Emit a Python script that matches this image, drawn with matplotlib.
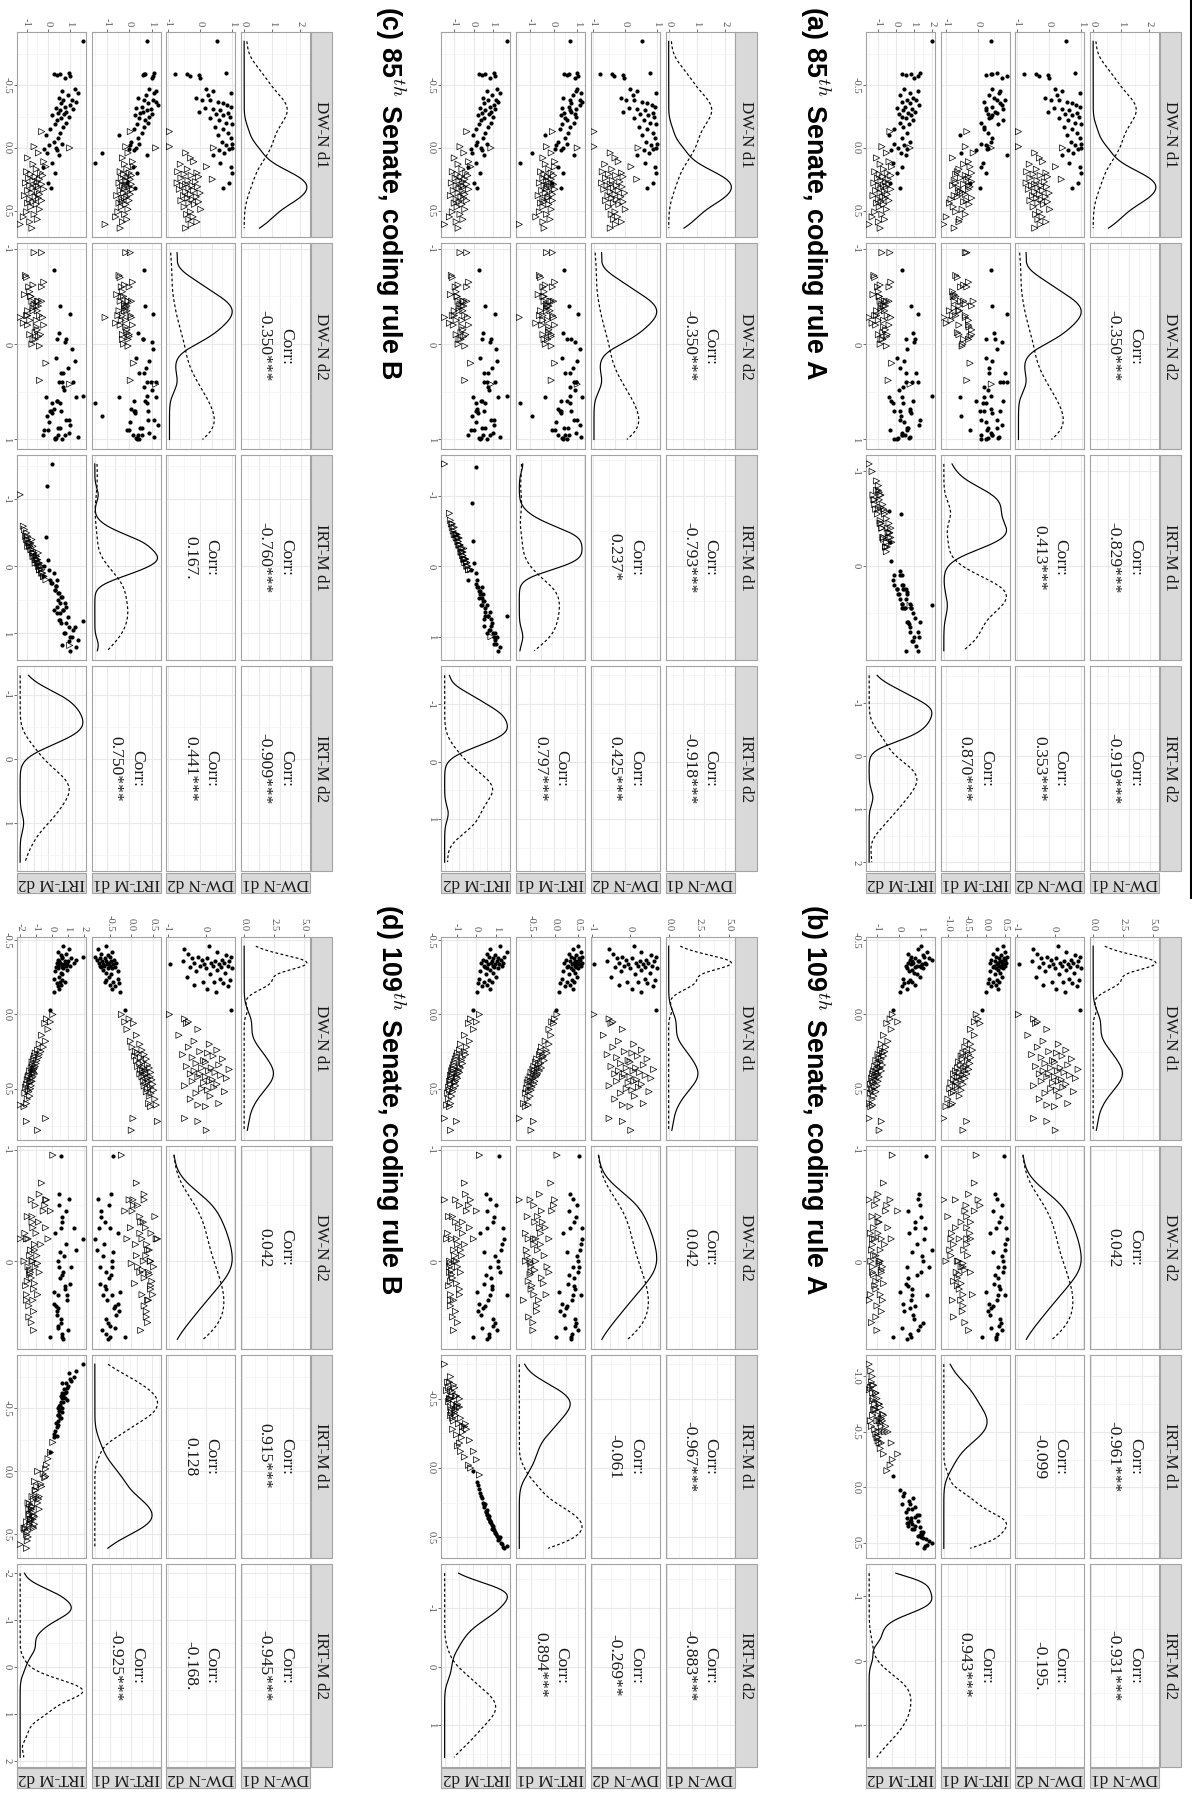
import numpy as np
import matplotlib.pyplot as plt
from matplotlib.patches import Rectangle
from matplotlib.lines import Line2D
from matplotlib.ticker import MaxNLocator

# ------------------------------------------------------------------ data
VAR_NAMES = ['DW-N d1', 'DW-N d2', 'IRT-M d1', 'IRT-M d2']
BLOCK_KEYS = ['L', 'M', 'R']

# 85th Senate, filled circles
dw1_c_85 = [-0.85, -0.60, -0.59, -0.59, -0.57, -0.58, -0.56, -0.47, -0.45, -0.44, -0.42, -0.40, -0.38, -0.38, -0.37, -0.36,
            -0.34, -0.33, -0.32, -0.31, -0.30, -0.29, -0.28, -0.27, -0.26, -0.25, -0.24, -0.22, -0.20, -0.19, -0.17, -0.15,
            -0.12, -0.10, -0.08, -0.05, -0.03, -0.02, 0.00, 0.01, 0.02, 0.04, 0.06, 0.12, 0.15, 0.20, 0.28, 0.32]
dw2_c_85 = [0.54, 0.80, -0.78, -0.40, -0.32, -0.05, -0.02, 0.18, 0.40, 0.97, 0.25, -0.12, 0.05, 0.30, 0.55, 0.70,
            0.85, 0.95, 0.15, 0.40, 0.62, -0.05, 0.88, 0.48, 0.72, 0.93, 0.30, 0.60, 0.80, 0.98, 0.45, 0.70,
            0.88, 0.55, 0.95, 0.68, 1.00, 0.82, 0.98, 0.90, 0.60, 0.75, 0.40, 0.62, 0.95, 0.99, 0.90, 0.70]
irt1_R_c_85 = [0.42, 0.60, 0.40, 0.45, 0.90, 0.25, 0.75, 0.45, 0.70, 0.65, 0.35, 0.50, 0.60, 0.85, 0.20, 0.70,
               0.75, 0.45, 0.25, 0.80, 0.25, 0.55, 0.60, 0.30, 0.45, 0.40, 0.35, 0.80, 0.10, 0.62, 0.20, 0.20,
               0.30, -0.58, 0.45, 0.40, 0.10, 0.25, 0.30, 0.28, -0.05, -0.55, 0.90, 0.15, 0.10, 0.25, -0.25, 0.05]
irt2_R_c_85 = [2.00, 1.35, 0.30, 0.85, 1.20, 0.55, 1.00, 0.45, 1.25, 0.80, 0.20, 0.95, 0.60, 1.10, 0.35, 0.75,
               1.30, 0.50, 0.05, 0.90, 0.40, 1.05, 0.65, 0.15, 0.85, 0.30, 0.55, 0.95, 0.20, 0.70, 0.40, -0.10,
               0.60, -0.40, 0.30, 0.75, -0.15, 0.45, 0.10, 0.60, -0.30, 0.25, 0.55, -0.20, 0.35, 0.05, -0.35, 0.20]
irt1_M_c_85 = [0.70, 1.00, 0.45, 0.65, 1.05, 0.55, 0.90, 1.00, 0.95, 1.15, 0.80, 0.40, 1.10, 0.70, 1.20, 0.75,
               1.10, 0.65, 0.35, 0.95, 0.70, 0.75, 0.45, 0.90, 0.30, 0.95, 0.50, 0.55, 0.85, 0.35, 0.70, 0.25,
               0.60, -0.35, 0.50, 0.20, 0.55, 0.10, 0.40, 0.05, 0.30, -0.90, 0.85, -1.40, 0.20, 0.40, -0.05, 0.30]
irt2_M_c_85 = [1.75, 1.05, 0.30, 0.60, 1.10, 0.45, 0.85, 1.20, 0.70, 1.35, 0.95, 0.50, 1.15, 0.75, 1.25, 0.55,
               1.05, 0.85, 0.35, 1.10, 0.60, 0.90, 0.45, 0.80, 0.25, 1.00, 0.55, 0.40, 0.90, 0.30, 0.75, 0.15,
               0.60, -0.05, 0.50, 0.20, 0.70, 0.10, 0.40, -0.15, 0.45, -0.10, 0.55, 0.15, -0.30, 0.35, 0.00, 0.20]
irt1_L_c_85 = [0.81, 1.11, 0.65, 0.70, 1.05, 0.60, 1.00, 0.90, 1.18, 1.10, 0.75, 0.40, 1.05, 0.65, 1.20, 0.85,
               1.26, 0.55, 0.30, 0.95, 0.80, 0.60, 0.50, 1.00, 0.25, 0.90, 0.45, 0.70, 0.85, 0.35, 0.65, 0.20,
               0.55, -0.44, 0.40, 0.10, 0.45, 0.05, 0.30, 0.00, 0.20, -1.20, 0.80, -1.53, 0.15, 0.35, -0.10, 0.25]
irt2_L_c_85 = [1.61, 0.95, 0.25, 0.55, 1.00, 0.40, 0.80, 1.25, 0.65, 1.40, 0.90, 0.50, 1.10, 0.70, 1.30, 0.60,
               1.00, 0.80, 0.35, 1.15, 0.55, 0.85, 0.45, 0.75, 0.20, 0.95, 0.60, 0.40, 0.85, 0.30, 0.70, 0.10,
               0.55, -0.10, 0.45, 0.25, 0.65, 0.05, 0.35, -0.20, 0.40, -0.05, 0.50, 0.20, -0.25, 0.30, 0.00, 0.15]

# 85th Senate, open triangles
dw1_t_85 = [-0.13, -0.01, 0.00, 0.04, 0.08, 0.11, 0.13, 0.15, 0.17, 0.19, 0.20, 0.21, 0.22, 0.23, 0.24, 0.25,
            0.26, 0.27, 0.28, 0.29, 0.30, 0.30, 0.31, 0.32, 0.33, 0.34, 0.35, 0.36, 0.37, 0.38, 0.39, 0.40,
            0.41, 0.42, 0.43, 0.44, 0.45, 0.47, 0.49, 0.51, 0.53, 0.55, 0.57, 0.59, 0.61, 0.64]
dw2_t_85 = [-0.96, -0.96, 0.42, -0.45, -0.30, -0.20, -0.62, 0.20, -0.40, -0.70, -0.10, -0.50, -0.28, -0.05, -0.60, 0.38,
            -0.38, -0.15, -0.72, -0.45, -0.25, -0.55, -0.08, -0.35, -0.65, -0.20, -0.45, 0.00, -0.30, -0.52, -0.12, -0.40,
            -0.25, -0.60, -0.05, -0.35, -0.18, -0.50, 0.02, -0.30, -0.42, -0.22, -0.35, -0.10, -0.28, -0.45]
irt1_R_t_85 = [-0.35, -0.40, 0.42, -0.15, -0.80, -0.30, -0.45, -0.25, -0.60, -0.65, -0.20, -0.70, -0.40, -0.30, -0.55, -0.35,
               -0.75, -0.20, -0.70, -0.45, -0.30, -0.80, -0.25, -0.62, -0.30, -0.60, -0.55, -0.48, -0.40, -0.75, -0.65, -0.20,
               -0.85, -0.35, -0.45, -0.90, -0.28, -0.78, -0.50, -0.70, -0.40, -1.00, -0.58, -0.60, -1.08, -0.75]
irt2_R_t_85 = [-0.35, -0.80, 0.78, -0.55, -1.10, -0.40, -0.90, -0.25, -0.70, -1.20, -0.50, -0.95, -0.30, -0.75, -1.05, -0.45,
               -0.85, -0.60, -1.25, -0.40, -0.70, -1.00, -0.55, -0.85, -0.30, -1.15, -0.65, -0.90, -0.50, -1.30, -0.75, -0.60,
               -1.00, -0.40, -0.85, -1.10, -0.70, -0.95, -0.55, -1.20, -0.80, -1.35, -0.65, -1.00, -1.52, -0.90]
irt1_M_t_85 = [-0.05, -0.30, 1.00, -0.10, -0.45, 0.05, -0.35, 0.05, -0.20, -0.55, -0.10, -0.40, 0.00, -0.25, -0.45, -0.10,
               -0.30, -0.20, -0.60, 0.00, -0.25, -0.40, -0.10, -0.30, 0.05, -0.50, -0.15, -0.35, -0.05, -0.65, -0.20, -0.25,
               -0.45, -0.05, -0.40, -0.55, -0.20, -0.45, -0.10, -0.60, -0.30, -0.75, -0.15, -0.45, -1.45, -0.40]
irt2_M_t_85 = [-0.35, -0.70, 0.90, -0.50, -1.00, -0.25, -0.80, -0.15, -0.60, -1.10, -0.40, -0.85, -0.30, -0.65, -0.95, -0.45,
               -0.75, -0.55, -1.15, -0.35, -0.60, -0.90, -0.50, -0.75, -0.25, -1.05, -0.55, -0.80, -0.45, -1.20, -0.65, -0.50,
               -0.90, -0.35, -0.75, -1.00, -0.60, -0.85, -0.45, -1.10, -0.70, -1.25, -0.55, -0.90, -1.50, -0.80]
irt1_L_t_85 = [0.05, -0.15, 1.18, -0.05, -0.30, 0.15, -0.20, 0.20, -0.10, -0.40, 0.00, -0.25, 0.10, -0.05, -0.35, 0.05,
               -0.15, -0.10, -0.45, 0.10, -0.15, -0.30, 0.00, -0.20, 0.15, -0.40, -0.05, -0.25, 0.05, -0.55, -0.10, -0.20,
               -0.35, 0.00, -0.30, -0.45, -0.15, -0.35, -0.05, -0.50, -0.20, -0.60, -0.10, -0.30, -1.07, -0.40]
irt2_L_t_85 = [-0.30, -0.65, 1.00, -0.45, -0.95, -0.20, -0.70, -0.10, -0.55, -1.00, -0.35, -0.80, -0.25, -0.60, -0.90, -0.40,
               -0.70, -0.50, -1.05, -0.30, -0.55, -0.85, -0.45, -0.70, -0.20, -0.95, -0.50, -0.75, -0.40, -1.10, -0.60, -0.45,
               -0.85, -0.30, -0.70, -0.95, -0.55, -0.80, -0.40, -1.00, -0.65, -1.15, -0.50, -0.85, -1.30, -0.75]

# 109th Senate, filled circles
dw1_c_109 = [-0.46, -0.44, -0.42, -0.41, -0.40, -0.39, -0.39, -0.38, -0.38, -0.37, -0.37, -0.36, -0.36, -0.36,
             -0.35, -0.35, -0.35, -0.34, -0.34, -0.34, -0.33, -0.33, -0.33, -0.32, -0.32, -0.31, -0.31, -0.30,
             -0.29, -0.28, -0.27, -0.25, -0.24, -0.23, -0.22, -0.22, -0.21, -0.20, -0.19, -0.17, -0.15, -0.03]
dw2_c_109 = [0.10, -0.56, 0.30, -0.45, 0.55, -0.20, 0.68, 0.05, -0.35, 0.42, -0.10, 0.25, -0.60, 0.62,
             0.15, -0.30, 0.48, -0.05, 0.35, -0.94, 0.20, 0.58, -0.15, 0.40, -0.40, 0.70, 0.00, 0.30,
             -0.25, 0.52, 0.12, -0.50, 0.38, 0.65, -0.08, 0.22, 0.45, -0.30, 0.60, 0.05, 0.28, 0.68]
irt1_R_c_109 = [0.45, 0.30, 0.52, 0.20, 0.40, 0.55, 0.28, 0.48, 0.35, 0.15, 0.50, 0.38, 0.25, 0.44,
                0.32, 0.53, 0.10, 0.42, 0.30, 0.47, 0.22, 0.36, 0.50, 0.18, 0.40, 0.28, 0.46, 0.33,
                0.12, 0.38, 0.25, 0.43, 0.08, 0.30, 0.20, 0.35, 0.05, 0.27, 0.15, 0.32, 0.02, -0.10]
irt2_R_c_109 = [1.00, 0.85, 1.30, 0.40, 1.10, 1.15, 0.55, 1.35, 0.75, 0.50, 1.50, 0.60, 0.90, 0.85,
                0.40, 1.20, 0.65, 1.05, 0.55, 1.25, 0.30, 0.95, 0.80, 0.75, 1.00, 0.35, 1.10, 0.60,
                0.45, 0.70, 0.80, 0.95, 0.20, 0.50, 0.60, 0.40, 0.25, 0.75, 0.15, 0.35, 0.05, -0.25]
irt1_M_c_109 = [0.50, 0.38, 0.56, 0.30, 0.46, 0.58, 0.35, 0.52, 0.42, 0.25, 0.54, 0.44, 0.32, 0.49,
                0.40, 0.57, 0.20, 0.47, 0.36, 0.51, 0.28, 0.43, 0.55, 0.26, 0.45, 0.34, 0.50, 0.39,
                0.18, 0.44, 0.31, 0.48, 0.15, 0.37, 0.27, 0.41, 0.12, 0.33, 0.22, 0.38, 0.10, 0.02]
irt2_M_c_109 = [1.20, 0.70, 1.55, 0.55, 0.95, 1.40, 0.65, 1.10, 0.85, 0.35, 1.25, 0.80, 0.50, 1.05,
                0.75, 1.35, 0.25, 0.95, 0.60, 1.15, 0.40, 0.85, 1.30, 0.45, 0.90, 0.55, 1.10, 0.70,
                0.20, 0.85, 0.50, 1.00, 0.15, 0.65, 0.40, 0.80, 0.10, 0.55, 0.30, 0.70, 0.05, -0.20]
irt1_L_c_109 = [-0.60, -0.78, -0.45, -0.70, -0.55, -0.85, -0.50, -0.72, -0.62, -0.40, -0.80, -0.58, -0.48, -0.68,
                -0.53, -0.75, -0.35, -0.65, -0.57, -0.42, -0.73, -0.50, -0.63, -0.38, -0.70, -0.55, -0.45, -0.66,
                -0.32, -0.60, -0.47, -0.52, -0.30, -0.58, -0.42, -0.62, -0.28, -0.50, -0.37, -0.45, -0.27, -0.15]
irt2_L_c_109 = [0.70, 1.05, 0.40, 0.90, 0.55, 1.93, 0.60, 1.20, 0.65, 0.35, 1.50, 0.80, 0.45, 1.00,
                0.50, 1.35, 0.30, 0.75, 0.95, 0.55, 1.10, 0.40, 0.85, 0.25, 0.60, 0.70, 0.35, 0.95,
                0.20, 0.55, 0.65, 0.45, 0.15, 0.60, 0.50, 0.80, 0.30, 0.55, 0.40, 0.45, 0.10, -0.10]

# 109th Senate, open triangles
dw1_t_109 = [0.00, 0.03, 0.05, 0.06, 0.10, 0.14, 0.18, 0.20, 0.22, 0.24, 0.25, 0.26, 0.27, 0.28, 0.29, 0.30, 0.31, 0.32,
             0.33, 0.34, 0.35, 0.36, 0.36, 0.37, 0.38, 0.38, 0.39, 0.40, 0.40, 0.41, 0.42, 0.42, 0.43, 0.44, 0.45, 0.45,
             0.46, 0.47, 0.48, 0.49, 0.50, 0.51, 0.52, 0.53, 0.55, 0.57, 0.60, 0.61, 0.62, 0.70, 0.72, 0.78]
dw2_t_109 = [-0.95, -0.55, -0.45, -0.50, -0.20, -0.70, -0.30, 0.10, -0.45, 0.30, -0.15, 0.05, -0.60, 0.20, -0.35, 0.45,
             -0.05, 0.00, -0.25, 0.35, -0.50, 0.15, -0.10, 0.62, -0.30, 0.08, 0.25, -0.40, -0.15, 0.40, 0.00, -0.20,
             0.55, 0.18, -0.35, 0.10, -0.05, 0.30, -0.55, 0.22, -0.10, 0.05, 0.50, -0.25, 0.12, -0.40, 0.35, -0.20,
             0.00, -0.55, -0.20, 0.02]
irt1_R_t_109 = [-0.25, -0.20, -0.30, -0.15, -0.40, -0.30, -0.50, -0.40, -0.55, -0.35, -0.50, -0.60, -0.45, -0.65, -0.40,
                -0.62, -0.48, -0.72, -0.42, -0.66, -0.52, -0.75, -0.58, -0.45, -0.80, -0.55, -0.70, -0.50, -0.85, -0.60,
                -0.75, -0.70, -0.55, -0.85, -0.65, -0.78, -0.92, -0.60, -0.80, -0.75, -0.95, -0.65, -0.85, -0.90, -0.70,
                -1.00, -0.88, -0.92, -1.05, -1.11, -0.50, -0.60]
irt2_R_t_109 = [-0.30, -0.40, -0.05, -0.55, -0.35, -0.70, -0.50, -0.80, -0.60, -0.85, -0.65, -0.75, -0.95, -0.70, -0.90,
                -0.80, -1.05, -0.85, -0.95, -0.75, -1.10, -0.90, -0.85, -1.00, -1.15, -0.80, -1.05, -0.95, -1.20, -1.00,
                -0.90, -1.10, -1.25, -1.05, -0.95, -1.20, -1.15, -1.30, -1.00, -1.10, -1.25, -1.20, -1.05, -1.30, -1.15,
                -1.22, -1.35, -1.20, -1.28, -1.36, -0.80, -0.90]
irt1_M_t_109 = [0.05, 0.00, -0.06, -0.02, -0.12, -0.08, -0.20, -0.12, -0.28, -0.18, -0.30, -0.16, -0.32, -0.24, -0.26,
                -0.38, -0.22, -0.40, -0.30, -0.34, -0.44, -0.28, -0.36, -0.46, -0.32, -0.42, -0.50, -0.36, -0.44, -0.38,
                -0.52, -0.40, -0.46, -0.56, -0.42, -0.50, -0.58, -0.44, -0.52, -0.48, -0.60, -0.50, -0.55, -0.62, -0.52,
                -0.58, -0.66, -0.56, -0.62, -0.75, -0.45, -0.50]
irt2_M_t_109 = [0.15, -0.30, 0.00, -0.40, -0.15, -0.60, -0.35, -0.80, -0.50, -0.85, -0.60, -0.95, -0.55, -1.00, -0.70,
                -1.05, -0.75, -1.10, -0.70, -1.15, -0.85, -1.20, -0.80, -1.15, -0.90, -1.25, -0.85, -1.20, -0.95, -1.30,
                -1.00, -1.25, -0.95, -1.30, -1.05, -1.35, -1.10, -1.30, -1.05, -1.40, -1.15, -1.35, -1.20, -1.45, -1.25,
                -1.40, -1.30, -1.50, -1.35, -1.60, -1.00, -1.30]
irt1_L_t_109 = [-0.23, -0.05, -0.15, 0.05, -0.10, 0.12, -0.02, 0.20, 0.02, 0.25, 0.10, 0.15, 0.30, 0.08, 0.22,
                0.35, 0.12, 0.28, 0.20, 0.38, 0.15, 0.30, 0.42, 0.22, 0.33, 0.26, 0.45, 0.20, 0.36, 0.30,
                0.44, 0.25, 0.38, 0.48, 0.28, 0.40, 0.34, 0.50, 0.30, 0.45, 0.38, 0.52, 0.35, 0.46, 0.42,
                0.55, 0.40, 0.58, 0.45, 0.04, 0.61, 0.00]
irt2_L_t_109 = [0.05, -0.35, -0.10, -0.45, -0.25, -0.65, -0.40, -0.80, -0.55, -0.90, -0.70, -1.05, -0.80, -1.10, -0.85,
                -1.15, -0.95, -1.25, -1.00, -1.20, -1.05, -1.30, -1.10, -1.15, -1.20, -1.40, -1.15, -1.25, -1.10, -1.45,
                -1.20, -1.50, -1.30, -1.55, -1.25, -1.35, -1.40, -1.60, -1.30, -1.65, -1.35, -1.50, -1.45, -1.70, -1.40,
                -1.55, -1.60, -2.00, -1.75, -0.40, -1.60, -0.90]

# correlation labels, order (d1,d2) (d1,I1) (d1,I2) (d2,I1) (d2,I2) (I1,I2)
corr_85 = {'R': ['-0.350***', '-0.829***', '-0.919***', '0.413***', '0.353***', '0.870***'],
           'M': ['-0.350***', '-0.793***', '-0.918***', '0.237*', '0.425***', '0.797***'],
           'L': ['-0.350***', '-0.760***', '-0.909***', '0.167.', '0.441***', '0.750***']}
corr_109 = {'R': ['0.042', '-0.961***', '-0.931***', '-0.099', '-0.195.', '0.943***'],
            'M': ['0.042', '-0.967***', '-0.883***', '-0.061', '-0.269**', '0.894***'],
            'L': ['0.042', '0.915***', '-0.945***', '0.128', '-0.168.', '-0.925***']}

# tick steps per variable
steps_85 = {'R': [0.5, 1, 1, 1], 'M': [0.5, 1, 1, 1], 'L': [0.5, 1, 1, 1]}
steps_109 = {'R': [0.5, 1, 0.5, 1], 'M': [0.5, 1, 0.5, 1], 'L': [0.5, 1, 0.5, 1]}

titles = {(0, 'R'): r'(a) 85$^{th}$ Senate, coding rule A',
          (0, 'M'): r'(c) 85$^{th}$ Senate, coding rule B',
          (1, 'R'): r'(b) 109$^{th}$ Senate, coding rule A',
          (1, 'M'): r'(d) 109$^{th}$ Senate, coding rule B'}

halves = [
    dict(circ=[dw1_c_85, dw2_c_85], tri=[dw1_t_85, dw2_t_85],
         irt={'R': (irt1_R_c_85, irt2_R_c_85, irt1_R_t_85, irt2_R_t_85),
              'M': (irt1_M_c_85, irt2_M_c_85, irt1_M_t_85, irt2_M_t_85),
              'L': (irt1_L_c_85, irt2_L_c_85, irt1_L_t_85, irt2_L_t_85)},
         steps=steps_85, corr=corr_85, dens_step=1.0),
    dict(circ=[dw1_c_109, dw2_c_109], tri=[dw1_t_109, dw2_t_109],
         irt={'R': (irt1_R_c_109, irt2_R_c_109, irt1_R_t_109, irt2_R_t_109),
              'M': (irt1_M_c_109, irt2_M_c_109, irt1_M_t_109, irt2_M_t_109),
              'L': (irt1_L_c_109, irt2_L_c_109, irt1_L_t_109, irt2_L_t_109)},
         steps=steps_109, corr=corr_109, dens_step=2.5),
]

# ------------------------------------------------------------------ layout (pixels, page is rotated)
W, H = 1192, 1794
BLOCK_OFFSET = {'L': 0.0, 'M': 424.5, 'R': 849.0}
ROW_X0, ROW_STEP, ROW_W = 241.0, 74.67, 69.0
COL_Y0 = [[32.0, 243.3, 454.6, 666.0], [937.0, 1146.0, 1355.0, 1564.0]]
COL_H = [205.5, 202.5]
TITLE_X = {'R': 815.0, 'M': 390.5}
TITLE_Y = [6.0, 904.0]

GRID_MAJ = '#e9e9e9'
GRID_MIN = '#f3f3f3'
BORDER = '#a3a3a3'
STRIP = '#d9d9d9'
TICKC = '#555555'

plt.rcParams['font.family'] = ['Liberation Serif', 'DejaVu Serif']
plt.rcParams['mathtext.fontset'] = 'cm'
plt.rcParams['axes.unicode_minus'] = False

fig = plt.figure(figsize=(W / 100, H / 100), dpi=100)


def rect(x0, y0, x1, y1):
    return [x0 / W, 1 - y1 / H, (x1 - x0) / W, (y1 - y0) / H]


def limits(vals):
    lo, hi = min(vals), max(vals)
    pad = 0.05 * (hi - lo)
    return lo - pad, hi + pad


def breaks(lim, step):
    k = np.arange(np.ceil(lim[0] / step), np.floor(lim[1] / step) + 1)
    return k * step + 0.0


def minor_breaks(lim, step):
    b = (np.arange(np.floor(lim[0] / step), np.ceil(lim[1] / step) + 1) + 0.5) * step
    return b[(b > lim[0]) & (b < lim[1])]


def fmt(v, step):
    if float(step).is_integer():
        return '%d' % round(v)
    return '%.1f' % (v + 0.0)


def kde(vals, grid):
    v = np.asarray(vals, float)
    q75, q25 = np.percentile(v, [75, 25])
    bw = 0.9 * min(v.std(ddof=1), (q75 - q25) / 1.34) * len(v) ** -0.2
    z = (grid[:, None] - v[None, :]) / bw
    return np.exp(-0.5 * z ** 2).sum(axis=1) / (len(v) * bw * np.sqrt(2 * np.pi))


def strip(x0, y0, x1, y1, label, rot):
    fig.add_artist(Rectangle((x0 / W, 1 - y1 / H), (x1 - x0) / W, (y1 - y0) / H,
                             transform=fig.transFigure, facecolor=STRIP, edgecolor=BORDER, lw=0.8))
    fig.text((x0 + x1) / 2 / W, 1 - (y0 + y1) / 2 / H, label, rotation=rot,
             ha='center', va='center', fontsize=12.3, color='#1a1a1a')


UPPER = {(0, 1): 0, (0, 2): 1, (0, 3): 2, (1, 2): 3, (1, 3): 4, (2, 3): 5}

for h, hf in enumerate(halves):
    for key in BLOCK_KEYS:
        off = BLOCK_OFFSET[key]
        c1, c2, t1, t2 = hf['irt'][key]
        circ = [hf['circ'][0], hf['circ'][1], c1, c2]
        tri = [hf['tri'][0], hf['tri'][1], t1, t2]
        lims = [limits(list(a) + list(b)) for a, b in zip(circ, tri)]
        steps = hf['steps'][key]
        corr = hf['corr'][key]

        for j in range(4):
            x0 = ROW_X0 - ROW_STEP * j + off
            x1 = x0 + ROW_W
            for k in range(4):
                y0 = COL_Y0[h][k]
                y1 = y0 + COL_H[h]
                ax = fig.add_axes(rect(x0, y0, x1, y1))
                vlim, vstep = lims[k], steps[k]

                if j == k:
                    allv = list(circ[k]) + list(tri[k])
                    g = np.linspace(min(allv), max(allv), 512)
                    dc, dt = kde(circ[k], g), kde(tri[k], g)
                    m = max(dc.max(), dt.max())
                    hlim = (-0.05 * m, 1.05 * m)
                    if j == 0:
                        hstep = hf['dens_step']
                    else:
                        tv = MaxNLocator(nbins=5, steps=[1, 2, 2.5, 5, 10]).tick_values(*hlim)
                        hstep = tv[1] - tv[0]
                    ax.plot(dt, g, color='black', lw=0.85, zorder=3)
                    ax.plot(dc, g, color='black', lw=0.85, ls=(0, (2.4, 2.0)), zorder=3)
                else:
                    hlim, hstep = lims[j], steps[j]
                    if j > k:
                        ax.scatter(circ[j], circ[k], s=9, c='black', marker='o', linewidths=0, zorder=3)
                        ax.scatter(tri[j], tri[k], s=20, marker='>', facecolors='none',
                                   edgecolors='black', linewidths=0.5, zorder=3)
                    else:
                        ax.text(0.5, 0.5, 'Corr:\n' + corr[UPPER[(j, k)]], transform=ax.transAxes,
                                rotation=-90, ha='center', va='center', fontsize=12.6,
                                linespacing=1.45, color='#1a1a1a')

                ax.set_xlim(hlim)
                ax.set_ylim(vlim[1], vlim[0])
                hmaj = breaks(hlim, hstep)
                vmaj = breaks(vlim, vstep)
                ax.set_xticks(hmaj)
                ax.set_xticks(minor_breaks(hlim, hstep), minor=True)
                ax.set_yticks(vmaj)
                ax.set_yticks(minor_breaks(vlim, vstep), minor=True)
                ax.grid(which='major', color=GRID_MAJ, lw=0.8)
                ax.grid(which='minor', color=GRID_MIN, lw=0.5)
                ax.set_axisbelow(True)
                ax.tick_params(which='both', length=0, labelleft=False, labelbottom=False,
                               labeltop=False, labelright=False)
                for sp in ax.spines.values():
                    sp.set_color(BORDER)
                    sp.set_linewidth(0.8)

                if k == 0:
                    ax.set_xticklabels([fmt(v, hstep) for v in hmaj])
                    ax.tick_params(axis='x', which='major', top=True, bottom=False, length=2.5,
                                   width=0.6, color=TICKC, labeltop=True, labelsize=7.7,
                                   labelcolor=TICKC, pad=1.5, labelrotation=-90)
                if j == 3:
                    ax.set_yticklabels([fmt(v, vstep) for v in vmaj])
                    ax.tick_params(axis='y', which='major', left=True, length=2.5, width=0.6,
                                   color=TICKC, labelleft=True, labelsize=7.7, labelcolor=TICKC,
                                   pad=1.5, labelrotation=-90)
                    for lbl in ax.get_yticklabels():
                        lbl.set_va('center')

        # top strips (column labels) and right strips (row labels)
        sx0 = ROW_X0 + ROW_W + off + 0.7
        for k in range(4):
            strip(sx0, COL_Y0[h][k], sx0 + 21.3, COL_Y0[h][k] + COL_H[h], VAR_NAMES[k], -90)
        ry0 = COL_Y0[h][3] + COL_H[h] + 1.5
        for j in range(4):
            x0 = ROW_X0 - ROW_STEP * j + off
            strip(x0, ry0, x0 + ROW_W, ry0 + 20.0, VAR_NAMES[j], 180)

        if (h, key) in titles:
            fig.text(TITLE_X[key] / W, 1 - TITLE_Y[h] / H, titles[(h, key)], rotation=-90,
                     ha='center', va='top', fontsize=19.4, fontweight='bold',
                     family='Liberation Sans', color='black')

fig.add_artist(Line2D([1190.5 / W, 1190.5 / W], [1.0, 1 - 898 / H], transform=fig.transFigure,
                      color='black', lw=1.5))

fig.savefig('out.png', dpi=100)
